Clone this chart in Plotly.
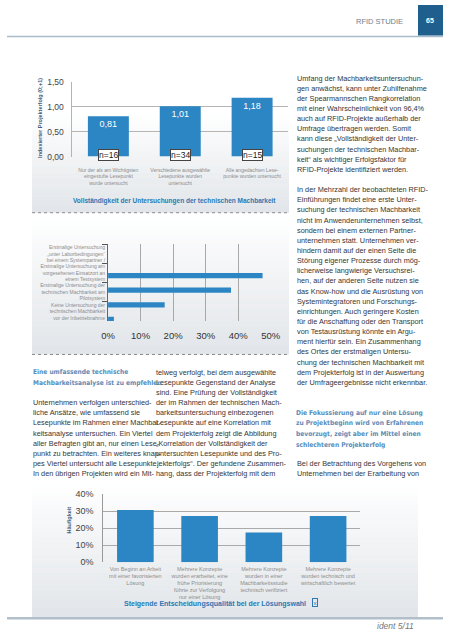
import plotly.graph_objects as go

W, H = 453, 640
def X(px): return px / W
def Y(py): return 1 - py / H

BLUE = "#2b86c3"
TITLE_BLUE = "#2a78b4"
HEAD_BLUE = "#5a8bb7"
AXIS_TITLE = "#3d5f80"
BODY = "Liberation Sans, Arial, sans-serif"
COND = "DejaVu Sans Condensed, DejaVu Sans, sans-serif"
LABEL_GRAY = "#8c8c8c"

# ---------------- chart data ----------------
c1_categories = [
    "Nur der als am Wichtigsten<br>eingestufte Lesepunkt<br>wurde untersucht",
    "Verschiedene ausgewählte<br>Lesepunkte wurden<br>untersucht",
    "Alle angedachten Lese-<br>punkte wurden untersucht",
]
c1_values = [0.81, 1.01, 1.18]
c1_counts = ["n=16", "n=34", "n=15"]
c1_ticks = [0, 0.5, 1.0, 1.5]
c1_ticklabels = ["0,00", "0,50", "1,00", "1,50"]
c1_title = "Vollständigkeit der Untersuchungen der technischen Machbarkeit"
c1_ytitle = "Indexierter Projekterfolg (0;+1)"

c2_categories = [
    "Erstmalige Untersuchung<br>„unter Laborbedingungen“<br>bei einem Systempartner /",
    "Erstmalige Untersuchung am<br>vorgesehenen Einsatzort an<br>einem Testsystem",
    "Erstmalige Untersuchung der<br>technischen Machbarkeit am<br>Pilotsystem",
    "Keine Untersuchung der<br>technischen Machbarkeit<br>vor der Inbetriebnahme",
]
c2_values = [47.5, 37.8, 17.4, 1.8]
c2_ticks = [0, 10, 20, 30, 40, 50]
c2_ticklabels = ["0%", "10%", "20%", "30%", "40%", "50%"]

c3_categories = [
    "Von Beginn an Arbeit<br>mit einer favorisierten<br>Lösung",
    "Mehrere Konzepte<br>wurden erarbeitet, eine<br>frühe Priorisierung<br>führte zur Verfolgung<br>nur einer Lösung",
    "Mehrere Konzepte<br>wurden in einer<br>Machbarkeitsstudie<br>technisch verifiziert",
    "Mehrere Konzepte<br>wurden technisch und<br>wirtschaftlich bewertet",
]
c3_values = [30.7, 27.2, 17.4, 27.2]
c3_ticks = [0, 10, 20, 30, 40]
c3_ticklabels = ["0%", "10%", "20%", "30%", "40%"]
c3_title = "Steigende Entscheidungsqualität bei der Lösungswahl"
c3_ytitle = "Häufigkeit"

# ---------------- page text ----------------
header_text = "RFID STUDIE"
page_number = "65"
footer_text = "ident 5/11"

left_heading = ["Eine umfassende technische", "Machbarkeitsanalyse ist zu empfehlen"]
left_body = [
    "Unternehmen verfolgen unterschied-",
    "liche Ansätze, wie umfassend sie",
    "Lesepunkte im Rahmen einer Machbar-",
    "keitsanalyse untersuchen. Ein Viertel",
    "aller Befragten gibt an, nur einen Lese-",
    "punkt zu betrachten. Ein weiteres knap-",
    "pes Viertel untersucht alle Lesepunkte.",
    "In den übrigen Projekten wird ein Mit-",
]
middle_body = [
    "telweg verfolgt, bei dem ausgewählte",
    "Lesepunkte Gegenstand der Analyse",
    "sind. Eine Prüfung der Vollständigkeit",
    "der im Rahmen der technischen Mach-",
    "barkeitsuntersuchung einbezogenen",
    "Lesepunkte auf eine Korrelation mit",
    "dem Projekterfolg zeigt die Abbildung",
    "„Korrelation der Vollständigkeit der",
    "untersuchten Lesepunkte und des Pro-",
    "jekterfolgs“. Der gefundene Zusammen-",
    "hang, dass der Projekterfolg mit dem",
]
right_p1 = [
    "Umfang der Machbarkeitsuntersuchun-",
    "gen anwächst, kann unter Zuhilfenahme",
    "der Spearmannschen Rangkorrelation",
    "mit einer Wahrscheinlichkeit von 96,4%",
    "auch auf RFID-Projekte außerhalb der",
    "Umfrage übertragen werden. Somit",
    "kann diese „Vollständigkeit der Unter-",
    "suchungen der technischen Machbar-",
    "keit“ als wichtiger Erfolgsfaktor für",
    "RFID-Projekte identifiziert werden.",
]
right_p2 = [
    "In der Mehrzahl der beobachteten RFID-",
    "Einführungen findet eine erste Unter-",
    "suchung der technischen Machbarkeit",
    "nicht im Anwenderunternehmen selbst,",
    "sondern bei einem externen Partner-",
    "unternehmen statt. Unternehmen ver-",
    "hindern damit auf der einen Seite die",
    "Störung eigener Prozesse durch mög-",
    "licherweise langwierige Versuchsrei-",
    "hen, auf der anderen Seite nutzen sie",
    "das Know-how und die Ausrüstung von",
    "Systemintegratoren und Forschungs-",
    "einrichtungen. Auch geringere Kosten",
    "für die Anschaffung oder den Transport",
    "von Testausrüstung könnte ein Argu-",
    "ment hierfür sein. Ein Zusammenhang",
    "des Ortes der erstmaligen Untersu-",
    "chung der technischen Machbarkeit mit",
    "dem Projekterfolg ist in der Auswertung",
    "der Umfrageergebnisse nicht erkennbar.",
]
right_heading = [
    "Die Fokussierung auf nur eine Lösung",
    "zu Projektbeginn wird von Erfahrenen",
    "bevorzugt, zeigt aber im Mittel einen",
    "schlechteren Projekterfolg",
]
right_p3 = [
    "Bei der Betrachtung des Vorgehens von",
    "Unternehmen bei der Erarbeitung von",
]

# ---------------- figure ----------------
fig = go.Figure()

fig.add_trace(go.Bar(
    x=c1_categories, y=c1_values, xaxis="x", yaxis="y",
    marker=dict(color=BLUE, line_width=0), width=0.57,
    texttemplate="%{y:.2f}", textposition="inside", insidetextanchor="end",
    textfont=dict(color="white", size=9, family=BODY), constraintext="none",
    hoverinfo="skip"))

# visible horizontal bars
fig.add_trace(go.Bar(
    y=c2_categories, x=c2_values, orientation="h", xaxis="x2", yaxis="y2",
    marker=dict(color=BLUE, line_width=0), width=0.36, hoverinfo="skip"))
# same data on the label axis (transparent) so that the category labels are drawn
fig.add_trace(go.Bar(
    y=c2_categories, x=c2_values, orientation="h", xaxis="x2", yaxis="y3",
    marker=dict(color="rgba(0,0,0,0)", line_width=0), hoverinfo="skip"))

fig.add_trace(go.Bar(
    x=c3_categories, y=c3_values, xaxis="x3", yaxis="y4",
    marker=dict(color=BLUE, line_width=0), width=0.57, hoverinfo="skip"))

shapes = []
annotations = []

def gradient(x0, x1, y0, y1, top=(255, 255, 255), bottom=(225, 229, 233), n=30):
    for i in range(n):
        t = (i + 0.5) / n
        c = tuple(round(top[j] + (bottom[j] - top[j]) * t) for j in range(3))
        ya = y0 + (y1 - y0) * i / n
        yb = y0 + (y1 - y0) * (i + 1) / n + 0.6
        shapes.append(dict(type="rect", xref="paper", yref="paper",
                           x0=X(x0), x1=X(x1), y0=Y(min(yb, y1)), y1=Y(ya),
                           fillcolor="rgb(%d,%d,%d)" % c, line_width=0, layer="below"))

gradient(26, 293, 110, 211)
gradient(26, 293, 215, 355)
gradient(26, 427, 486, 622)

def hline(x0, x1, y, color, width=1, dash="solid"):
    shapes.append(dict(type="line", xref="paper", yref="paper", x0=X(x0), x1=X(x1),
                       y0=Y(y), y1=Y(y), line=dict(color=color, width=width, dash=dash)))

hline(26, 293, 211, "#8a8a8a", 1, "dot")
hline(26, 293, 355, "#8a8a8a", 1, "dot")
hline(0, 453, 32, "#a9bccb", 1.5)
hline(0, 453, 623, "#b2bfca", 2.5)

# page number box
shapes.append(dict(type="rect", xref="paper", yref="paper", x0=X(427), x1=X(453),
                   y0=Y(31), y1=Y(0), fillcolor="#1f5f8e", line_width=0))

def ann(text, x, y, size, color, family=BODY, xanchor="left", yanchor="middle", **kw):
    d = dict(text=text, x=X(x), y=Y(y), xref="paper", yref="paper", xanchor=xanchor,
             yanchor=yanchor, showarrow=False, font=dict(size=size, color=color, family=family))
    d.update(kw)
    annotations.append(d)

GRID0, STEP = 74.3, 10.3
def column(lines, x, k0, size=7.3, color="#363636", family=BODY, bold=False, step=STEP):
    for i, s in enumerate(lines):
        ann("<b>%s</b>" % s if bold else s, x, GRID0 + STEP * k0 + step * i, size, color, family)

# header / footer
ann(header_text, 387, 17, 7.5, "#6e808f", xanchor="center")
ann("<b>%s</b>" % page_number, 440, 16, 7, "white", xanchor="center")
ann("<i>%s</i>" % footer_text, 404, 631, 8.5, "#777777", xanchor="center")

# text columns
column(right_p1, 299, 0)
column(right_p2, 299, 11)
column(right_heading, 298, 33, size=6.6, color=HEAD_BLUE, family=COND, bold=True, step=10.8)
column(right_p3, 299, 38)
column(middle_body, 153, 29)
column(left_heading, 25, 29, size=6.6, color=HEAD_BLUE, family=COND, bold=True, step=10.8)
column(left_body, 25, 32)

# chart titles
ann("<b>%s</b>" % c1_title, 174.5, 199, 6.5, TITLE_BLUE, xanchor="center")
ann("<b>%s</b>" % c1_ytitle, 35, 115, 5.5, AXIS_TITLE, xanchor="center", textangle=-90)
ann("<b>%s</b>" % c3_title, 313, 608, 7, TITLE_BLUE, xanchor="right")
ann("x", 320, 607, 6, TITLE_BLUE, xanchor="center", bordercolor=TITLE_BLUE,
    borderwidth=1, borderpad=0.5)
ann("<b>%s</b>" % c3_ytitle, 64, 523, 5.5, AXIS_TITLE, xanchor="center", textangle=-90)

# n= boxes on chart 1
for cat, n in zip(c1_categories, c1_counts):
    annotations.append(dict(text=n, x=cat, y=0, xref="x", yref="y", xanchor="center",
                            yanchor="middle", yshift=1.5, showarrow=False,
                            font=dict(size=8.5, color="#222222", family=BODY),
                            bgcolor="white", bordercolor="#444444", borderwidth=1, borderpad=0))

fig.update_layout(
    width=W, height=H, autosize=False,
    margin=dict(l=0, r=0, t=0, b=0, pad=0),
    paper_bgcolor="white", plot_bgcolor="rgba(0,0,0,0)",
    showlegend=False, separators=",.", barmode="overlay",
    shapes=shapes, annotations=annotations,
    xaxis=dict(domain=[X(68), X(292)], anchor="y", type="category", range=[-0.5, 2.5],
               showgrid=False, showline=False, zeroline=False, ticks="",
               tickfont=dict(size=5, color=LABEL_GRAY, family=BODY), ticklabelstandoff=9),
    yaxis=dict(domain=[Y(154), Y(78)], anchor="x", range=[0, 1.5], tickvals=c1_ticks,
               ticktext=c1_ticklabels, showgrid=True, gridcolor="#b4b4b4", gridwidth=1,
               showline=True, linecolor="#b4b4b4", zeroline=False, ticks="",
               tickfont=dict(size=8.5, color="#444444", family=BODY), ticklabelstandoff=6),
    xaxis2=dict(domain=[X(105), X(274)], anchor="y2", range=[0, 50], tickvals=c2_ticks,
                ticktext=c2_ticklabels, showgrid=True, gridcolor="#a8a8a8", showline=False,
                zeroline=False, ticks="",
                tickfont=dict(size=9.5, color="#333333", family=BODY), ticklabelstandoff=8),
    yaxis2=dict(domain=[Y(321), Y(243)], anchor="x2", type="category",
                categoryarray=c2_categories, range=[3.11, -2.16], showticklabels=False,
                showgrid=False, showline=False, zeroline=False, ticks=""),
    yaxis3=dict(overlaying="y2", anchor="x2", side="left", type="category",
                categoryarray=c2_categories, range=[len(c2_categories) - 0.5, -0.5],
                tickson="boundaries", ticks="outside", ticklen=5, tickcolor="#555555",
                showgrid=False, zeroline=False, showline=True, linecolor="#666666",
                tickfont=dict(size=5, color=LABEL_GRAY, family=BODY), ticklabelstandoff=1),
    xaxis3=dict(domain=[X(100), X(367)], anchor="y4", type="category", range=[-0.5, 3.5],
                showgrid=False, showline=False, zeroline=False, ticks="",
                tickfont=dict(size=5.5, color=LABEL_GRAY, family=BODY), ticklabelstandoff=2),
    yaxis4=dict(domain=[Y(566), Y(497)], anchor="x3", range=[0, 40], tickvals=c3_ticks,
                ticktext=c3_ticklabels, showgrid=True, gridcolor="#aaaaaa", showline=True,
                linecolor="#999999", zeroline=False, ticks="",
                tickfont=dict(size=9, color="#444444", family=BODY), ticklabelstandoff=7),
)

fig.write_html("out.html", config={"displayModeBar": False},
               post_script="document.body.style.margin='0';document.body.style.padding='0';")
